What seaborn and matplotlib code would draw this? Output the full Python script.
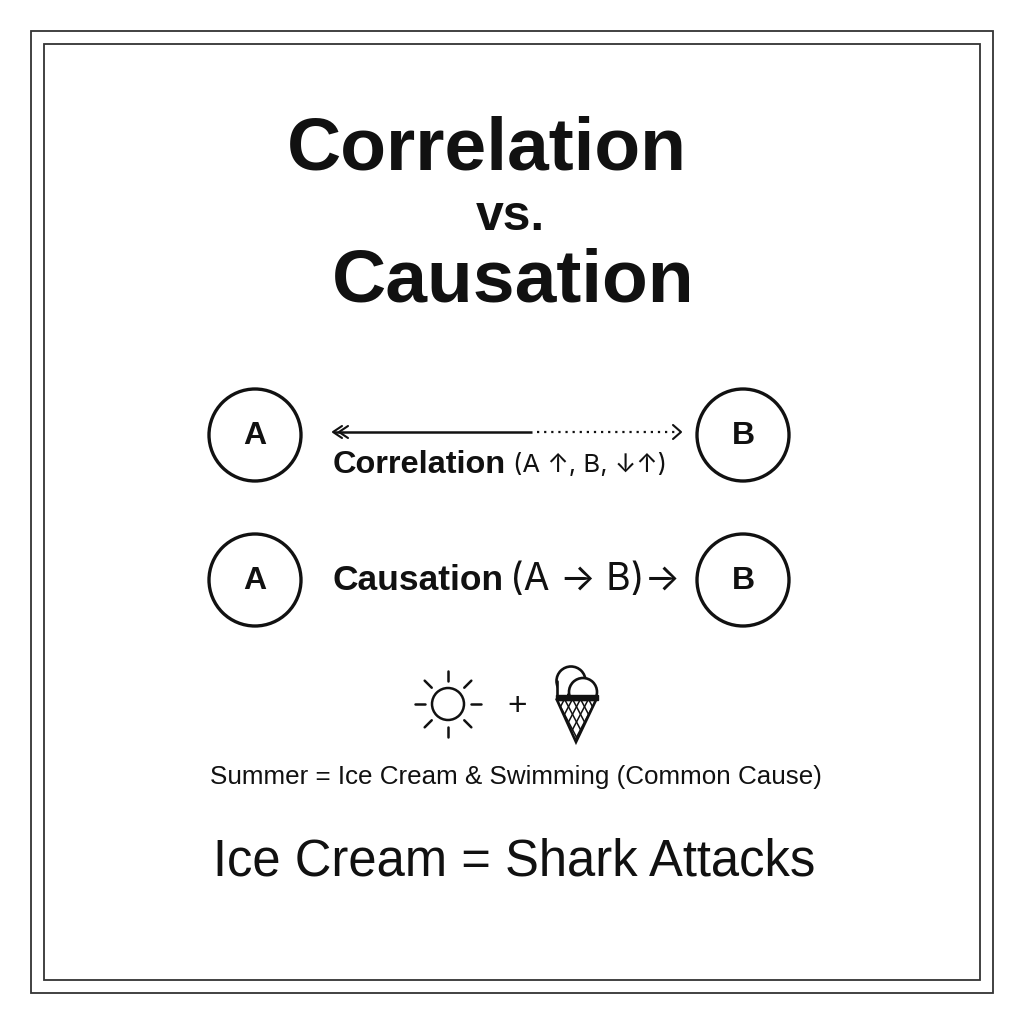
import numpy as np
import matplotlib
matplotlib.use("Agg")
import matplotlib.pyplot as plt
import seaborn as sns
from matplotlib.patches import Circle, Rectangle, Polygon

sns.set_theme(style="white")
plt.rcParams['font.family'] = ['Liberation Sans', 'DejaVu Sans']

# text content
title_lines = ["Correlation", "vs.", "Causation"]
node_labels = ["A", "B"]
row_bold = ["Correlation", "Causation"]
row_plain = ["(A \u2191, B, \u2193\u2191)", "(A \u2192 B)\u2192"]
common_cause_note = "Summer = Ice Cream & Swimming (Common Cause)"
bottom_claim = "Ice Cream = Shark Attacks"

INK = "#111111"
PLAIN = ['Inter', 'DejaVu Sans']

fig = plt.figure(figsize=(10.24, 10.24), dpi=100)
ax = fig.add_axes([0, 0, 1, 1])
ax.set_xlim(0, 1024)
ax.set_ylim(1024, 0)
ax.axis('off')

# double frame
ax.add_patch(Rectangle((31, 31), 962, 962, fill=False, ec="#333333", lw=1.3))
ax.add_patch(Rectangle((44, 44), 936, 936, fill=False, ec="#333333", lw=1.3))

# title
ax.text(487, 170, title_lines[0], ha='center', va='baseline', fontsize=54, fontweight='bold', color=INK)
ax.text(510, 230, title_lines[1], ha='center', va='baseline', fontsize=36, fontweight='bold', color=INK)
ax.text(513, 301, title_lines[2], ha='center', va='baseline', fontsize=54, fontweight='bold', color=INK)

# nodes
row_y = [435, 580]
for y in row_y:
    for x, lab in zip([255, 743], node_labels):
        ax.add_patch(Circle((x, y), 46, fill=False, ec=INK, lw=2.4))
        ax.text(x, y + 1, lab, ha='center', va='center', fontsize=23, fontweight='bold', color=INK)

# correlation arrow: solid then dotted
ay = 432
ax.plot([334, 532], [ay, ay], color=INK, lw=1.8, solid_capstyle='butt')
ax.plot([537, 678], [ay, ay], color=INK, lw=1.6, linestyle=(0, (1, 2.2)))
for tip in [333, 339]:
    ax.plot([tip + 9, tip, tip + 9], [ay - 6, ay, ay + 6], color=INK, lw=1.5)
ax.plot([673, 681, 673], [ay - 7, ay, ay + 7], color=INK, lw=1.5)

# row labels
ax.text(506, 465, row_bold[0], ha='right', va='center', fontsize=23.4, fontweight='bold', color=INK)
ax.text(513, 465, row_plain[0], ha='left', va='center', fontsize=18.5, color=INK, family=PLAIN)
ax.text(504, 580, row_bold[1], ha='right', va='center', fontsize=25.5, fontweight='bold', color=INK)
ax.text(510, 580, row_plain[1], ha='left', va='center', fontsize=27, color=INK, family=PLAIN)

# sun icon
sx, sy = 448, 704
ax.add_patch(Circle((sx, sy), 16, fill=False, ec=INK, lw=1.8))
for ang in np.deg2rad(np.arange(0, 360, 45)):
    ax.plot([sx + 23 * np.cos(ang), sx + 33 * np.cos(ang)],
            [sy + 23 * np.sin(ang), sy + 33 * np.sin(ang)], color=INK, lw=1.8)

# plus
ax.text(517, 706, "+", ha='center', va='center', fontsize=24, color=INK)

# ice cream icon
ax.add_patch(Circle((571, 681), 14.5, fc='white', ec=INK, lw=1.9, zorder=2))
ax.add_patch(Rectangle((556.5, 681), 10, 15, fc='white', ec='none', zorder=2))
ax.plot([556.5, 556.5], [681, 696], color=INK, lw=1.9, zorder=2)
ax.add_patch(Circle((583, 692), 14, fc='white', ec=INK, lw=1.9, zorder=3))
ax.add_patch(Rectangle((556, 695), 42, 5, fc=INK, ec=INK, lw=1, zorder=4))
cone_pts = [[557, 700], [596, 700], [576, 742]]
cone_clip = Polygon(cone_pts, closed=True, fc='white', ec='none', zorder=4)
ax.add_patch(cone_clip)
for off in np.arange(-40, 45, 8):
    for seg in ([[557 + off, 557 + off + 22], [700, 742]],
                [[596 - off, 596 - off - 22], [700, 742]]):
        ln, = ax.plot(seg[0], seg[1], color=INK, lw=1.1, zorder=5)
        ln.set_clip_path(cone_clip)
ax.add_patch(Polygon(cone_pts, closed=True, fill=False, ec=INK, lw=1.9, zorder=6))

# notes
ax.text(516, 777, common_cause_note, ha='center', va='center', fontsize=18.7, color=INK)
ax.text(514, 862, bottom_claim, ha='center', va='center', fontsize=36.5, color=INK)

fig.savefig("out.png", dpi=100, facecolor='white')
